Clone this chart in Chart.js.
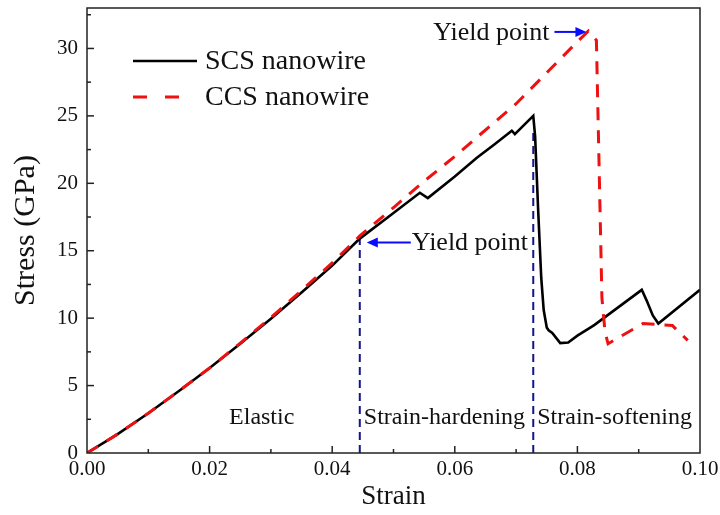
<!DOCTYPE html>
<html>
<head>
<meta charset="utf-8">
<script src="https://cdn.jsdelivr.net/npm/chart.js@4.4.1/dist/chart.umd.min.js"></script>
<style>
  body { margin: 0; background: #fff; }
  #wrap { width: 720px; height: 515px; }
</style>
</head>
<body>
<div id="wrap"><canvas id="chart"></canvas></div>
<script>
// SCS nanowire (solid black)
const scsStrain = [0, 0.005, 0.01, 0.015, 0.02, 0.025, 0.03, 0.035, 0.04, 0.0445, 0.05, 0.0543, 0.0556, 0.06, 0.0636, 0.0665, 0.0693, 0.0698, 0.0728, 0.0731, 0.0736, 0.0741, 0.0745, 0.075, 0.0753, 0.0759, 0.0772, 0.0785, 0.08, 0.0821, 0.0828, 0.0905, 0.0913, 0.0923, 0.0932, 0.1];
const scsStress = [0, 1.4, 2.95, 4.6, 6.3, 8.1, 9.95, 11.9, 13.9, 15.9, 17.8, 19.3, 18.9, 20.5, 21.9, 22.9, 23.9, 23.65, 25.0, 23.5, 18.0, 13.0, 10.6, 9.3, 9.1, 8.9, 8.15, 8.2, 8.7, 9.3, 9.5, 12.1, 11.3, 10.2, 9.6, 12.1];

// CCS nanowire (dashed red)
const ccsStrain = [0, 0.005, 0.01, 0.015, 0.02, 0.025, 0.03, 0.035, 0.04, 0.0445, 0.05, 0.055, 0.06, 0.0641, 0.07, 0.075, 0.08, 0.0818, 0.0831, 0.0836, 0.084, 0.0845, 0.085, 0.0907, 0.0955, 0.098];
const ccsStress = [0, 1.4, 2.95, 4.6, 6.3, 8.15, 10.05, 12.05, 14.1, 16.1, 18.2, 20.15, 22.0, 23.6, 25.9, 28.2, 30.5, 31.3, 30.6, 20.0, 11.5, 9.0, 8.1, 9.6, 9.45, 8.35];

// region boundaries (blue dashed) and their top stress
const boundaryStrain = [0.0445, 0.0728];
const boundaryStress = [15.9, 24.0];

const regionLabels = ["Elastic", "Strain-hardening", "Strain-softening"];
const seriesNames = ["SCS nanowire", "CCS nanowire"];

const xTicks = [0, 0.02, 0.04, 0.06, 0.08, 0.10];
const yTicks = [0, 5, 10, 15, 20, 25, 30];

const FONT = "'Liberation Serif', 'Times New Roman', serif";
const RED = "#ee1111";
const NAVY = "#14148c";
const BLUE = "#0a0aff";

function toPoints(xs, ys) {
  return xs.map((x, i) => ({ x: x, y: ys[i] }));
}

const datasets = [
  {
    label: seriesNames[0],
    data: toPoints(scsStrain, scsStress),
    borderColor: "#000",
    borderWidth: 2.6,
    order: 1,
  },
  {
    label: seriesNames[1],
    data: toPoints(ccsStrain, ccsStress),
    borderColor: RED,
    borderWidth: 3,
    borderDash: [13, 10],
    order: 0,
  },
];
boundaryStrain.forEach((s, i) => {
  datasets.push({
    label: "boundary" + i,
    data: [{ x: s, y: 0 }, { x: s, y: boundaryStress[i] }],
    borderColor: NAVY,
    borderWidth: 2,
    borderDash: [8, 5],
    order: 2,
  });
});

// frame, inward ticks, legend and annotations
const decorations = {
  id: "decorations",
  afterDraw(chart) {
    const ctx = chart.ctx;
    const a = chart.chartArea;
    const xs = chart.scales.x;
    const ys = chart.scales.y;
    ctx.save();

    // frame
    ctx.strokeStyle = "#222";
    ctx.lineWidth = 1.5;
    ctx.strokeRect(a.left, a.top, a.right - a.left, a.bottom - a.top);

    // x ticks every 0.01
    for (let i = 1; i < 10; i++) {
      const px = xs.getPixelForValue(i * 0.01);
      const len = i % 2 === 0 ? 7 : 4;
      ctx.beginPath();
      ctx.moveTo(px, a.bottom);
      ctx.lineTo(px, a.bottom - len);
      ctx.stroke();
    }
    // y ticks every 2.5
    for (let v = 2.5; v < 33; v += 2.5) {
      const py = ys.getPixelForValue(v);
      const len = v % 5 === 0 ? 7 : 4;
      ctx.beginPath();
      ctx.moveTo(a.left, py);
      ctx.lineTo(a.left + len, py);
      ctx.stroke();
    }

    // legend
    ctx.font = "28px " + FONT;
    ctx.textBaseline = "middle";
    ctx.textAlign = "left";
    const legendRows = [61, 97];
    chart.data.datasets.slice(0, 2).forEach((ds, i) => {
      const y = legendRows[i];
      ctx.strokeStyle = ds.borderColor;
      ctx.lineWidth = ds.borderWidth;
      ctx.setLineDash(i === 1 ? [14, 18] : []);
      ctx.beginPath();
      ctx.moveTo(133, y);
      ctx.lineTo(197, y);
      ctx.stroke();
      ctx.setLineDash([]);
      ctx.fillStyle = "#111";
      ctx.fillText(ds.label, 205, y + 1);
    });

    // region labels
    ctx.font = "24px " + FONT;
    ctx.fillStyle = "#111";
    const labelY = ys.getPixelForValue(2.6);
    ctx.textAlign = "center";
    ctx.fillText(regionLabels[0], xs.getPixelForValue(0.0285), labelY);
    ctx.textAlign = "left";
    ctx.fillText(regionLabels[1], xs.getPixelForValue(boundaryStrain[0]) + 4, labelY);
    ctx.fillText(regionLabels[2], xs.getPixelForValue(boundaryStrain[1]) + 4, labelY);

    // yield point arrows
    function arrow(x1, y1, x2, y2) {
      const dir = Math.sign(x2 - x1);
      ctx.strokeStyle = BLUE;
      ctx.fillStyle = BLUE;
      ctx.lineWidth = 2;
      ctx.beginPath();
      ctx.moveTo(x1, y1);
      ctx.lineTo(x2 - dir * 8, y2);
      ctx.stroke();
      ctx.beginPath();
      ctx.moveTo(x2, y2);
      ctx.lineTo(x2 - dir * 11, y2 - 5);
      ctx.lineTo(x2 - dir * 11, y2 + 5);
      ctx.closePath();
      ctx.fill();
    }
    ctx.font = "26px " + FONT;
    // CCS yield point (peak of the red curve)
    const peakIdx = ccsStress.indexOf(Math.max(...ccsStress));
    const tipX = xs.getPixelForValue(ccsStrain[peakIdx]);
    const tipY = ys.getPixelForValue(ccsStress[peakIdx]) + 1;
    arrow(tipX - 34, tipY, tipX - 2, tipY);
    ctx.fillStyle = "#111";
    ctx.textAlign = "right";
    ctx.fillText("Yield point", tipX - 39, tipY + 1);
    // SCS yield point
    const yx = xs.getPixelForValue(boundaryStrain[0]) + 7;
    const yy = ys.getPixelForValue(boundaryStress[0]) + 4;
    arrow(yx + 44, yy, yx, yy);
    ctx.fillStyle = "#111";
    ctx.textAlign = "left";
    ctx.fillText("Yield point", yx + 45, yy + 1);

    ctx.restore();
  },
};

new Chart(document.getElementById("chart"), {
  type: "scatter",
  data: { datasets: datasets },
  options: {
    responsive: true,
    maintainAspectRatio: false,
    animation: false,
    showLine: true,
    elements: {
      point: { radius: 0, hoverRadius: 0 },
      line: { tension: 0, fill: false, borderCapStyle: "butt", borderJoinStyle: "miter" },
    },
    layout: { padding: { top: 8, right: 20, left: 0, bottom: 0 } },
    plugins: { legend: { display: false }, tooltip: { enabled: false } },
    scales: {
      x: {
        type: "linear",
        min: 0,
        max: 0.1,
        grid: { display: false, drawTicks: false },
        border: { display: false },
        afterBuildTicks: (axis) => {
          axis.ticks = xTicks.map((v) => ({ value: v }));
        },
        afterFit: (scale) => {
          scale.height = 62;
          scale.paddingLeft = 0;
          scale.paddingRight = 0;
        },
        ticks: {
          color: "#111",
          font: { family: FONT, size: 21 },
          padding: 4,
          maxRotation: 0,
          callback: (v) => v.toFixed(2),
        },
        title: {
          display: true,
          text: "Strain",
          color: "#111",
          font: { family: FONT, size: 27 },
          padding: { top: 0, bottom: 2 },
        },
      },
      y: {
        min: 0,
        max: 33,
        grid: { display: false, drawTicks: false },
        border: { display: false },
        afterBuildTicks: (axis) => {
          axis.ticks = yTicks.map((v) => ({ value: v }));
        },
        afterFit: (scale) => {
          scale.width = 87;
          scale.paddingTop = 0;
          scale.paddingBottom = 0;
        },
        ticks: {
          color: "#111",
          font: { family: FONT, size: 21 },
          padding: 9,
          callback: (v) => String(v),
        },
        title: {
          display: true,
          text: "Stress (GPa)",
          color: "#111",
          font: { family: FONT, size: 30 },
          padding: { top: 8, bottom: 0 },
        },
      },
    },
  },
  plugins: [decorations],
});
</script>
</body>
</html>
